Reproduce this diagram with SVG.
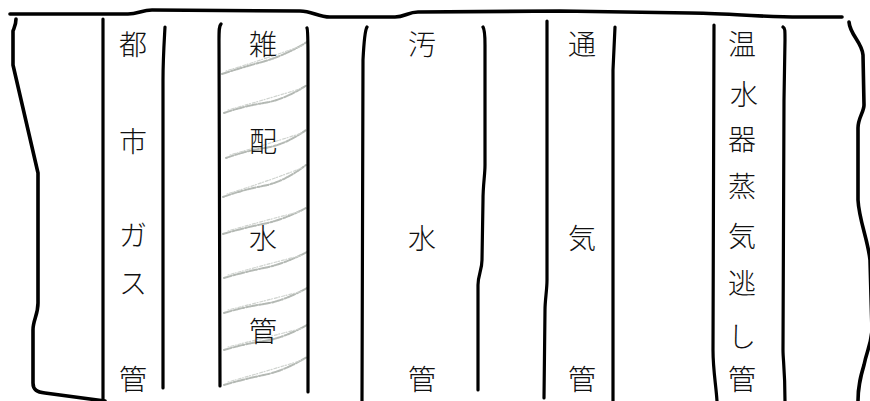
<svg xmlns="http://www.w3.org/2000/svg" width="870" height="401" viewBox="0 0 870 401">
<style>
.ink{fill:none;stroke:#000;stroke-width:3.6;stroke-linecap:round;stroke-linejoin:round}
.pen{fill:none;stroke:#000;stroke-width:3.2;stroke-linecap:round;stroke-linejoin:round}
.lbl{font-family:"Noto Sans CJK JP","Noto Sans CJK SC",sans-serif;font-size:28px;font-weight:300;fill:#111;text-anchor:middle;dominant-baseline:central}
.scr{fill:none;stroke:#b4b9b4;stroke-width:2;stroke-linecap:round;stroke-dasharray:1.5 1.2 3 1 1 2 2 1.5}
.scr2{fill:none;stroke:#cfd3cf;stroke-width:1.2;stroke-linecap:round;stroke-dasharray:1 2 3 1.5}
</style>
<rect width="870" height="401" fill="#fff"/>
<g id="outline">
<path class="ink" d="M10,14 L128,14 C138,14 142,10 152,10 L300,11 C312,11 318,17 330,17 L395,17 C405,17 408,12 418,12 L560,11 L690,13 C720,13 760,17 800,17 L842,17"/>
<path class="ink" d="M16,19 C16,25 14,28 13,31 L13,65 L38,173 L38,303 C38,315 33,320 33,330 L33,383 C33,390 37,392 45,393 L105,401"/>
<path class="ink" d="M849,22 C850,35 862,42 863,55 L864,105 C864,112 858,118 858,128 L858,200 C859,220 868,240 870,260 L872,330 C871,345 867,350 864,365 C861,375 858,385 858,401"/>
</g>
<g id="texture">
<path class="scr" d="M222,74 Q240,68 262,62 T307,42"/>
<path class="scr2" d="M226,71 Q262,60 304,45"/>
<path class="scr" d="M224,113 Q244,106 264,103 T307,85"/>
<path class="scr2" d="M228,110 Q264,100 303,88"/>
<path class="scr" d="M226,158 Q245,151 265,148 T306,130"/>
<path class="scr2" d="M230,155 Q265,145 302,133"/>
<path class="scr" d="M223,197 Q242,190 263,186 T306,165"/>
<path class="scr2" d="M227,194 Q263,183 302,168"/>
<path class="scr" d="M223,234 Q243,228 263,224 T306,208"/>
<path class="scr2" d="M228,231 Q263,221 302,211"/>
<path class="scr" d="M224,278 Q244,272 264,268 T307,252"/>
<path class="scr2" d="M228,275 Q264,265 303,255"/>
<path class="scr" d="M224,313 Q244,307 264,304 T307,288"/>
<path class="scr2" d="M228,310 Q264,301 303,291"/>
<path class="scr" d="M224,350 Q244,344 264,341 T307,325"/>
<path class="scr2" d="M228,347 Q264,338 303,328"/>
<path class="scr" d="M224,385 Q244,379 264,375 T307,357"/>
<path class="scr2" d="M228,382 Q264,372 303,360"/>
</g>
<g id="walls">
<path class="pen" d="M103,19 L103,401"/>
<path class="pen" d="M165,27 C164,45 163,60 163,80 L163,388"/>
<path class="pen" d="M221,24 C219,26 219,30 219,40 L220,386"/>
<path class="pen" d="M307,28 C308,30 308,40 308,60 L308,392"/>
<path class="pen" d="M367,27 C365,30 364,40 363,60 L362,401"/>
<path class="pen" d="M483,27 C485,30 485,35 485,45 L485,165 C485,175 483,185 483,200 L482,260 C482,270 478,275 478,285 L478,390"/>
<path class="pen" d="M547,21 L547,280 C547,290 545,300 545,310 L544,398"/>
<path class="pen" d="M615,27 L613,70 L613,401"/>
<path class="pen" d="M714,25 L713,350 C713,370 716,385 717,401"/>
<path class="pen" d="M783,27 C785,28 785,30 785,40 L784,100 L783,350 C783,360 785,370 785,401"/>
</g>
<g id="gas">
<text class="lbl" x="133" y="43">都</text>
<text class="lbl" x="133" y="140">市</text>
<text class="lbl" x="133" y="234">ガ</text>
<text class="lbl" x="133" y="282">ス</text>
<text class="lbl" x="133" y="378">管</text>
</g>
<g id="water-supply">
<text class="lbl" x="263" y="43">雑</text>
<text class="lbl" x="263" y="140">配</text>
<text class="lbl" x="263" y="237">水</text>
<text class="lbl" x="263" y="330">管</text>
</g>
<g id="sewage">
<text class="lbl" x="422" y="43">汚</text>
<text class="lbl" x="422" y="237">水</text>
<text class="lbl" x="422" y="378">管</text>
</g>
<g id="vent">
<text class="lbl" x="582" y="43">通</text>
<text class="lbl" x="582" y="237">気</text>
<text class="lbl" x="582" y="378">管</text>
</g>
<g id="relief">
<text class="lbl" x="742" y="43">温</text>
<text class="lbl" x="744" y="93">水</text>
<text class="lbl" x="742" y="138">器</text>
<text class="lbl" x="742" y="185">蒸</text>
<text class="lbl" x="742" y="235">気</text>
<text class="lbl" x="742" y="282">逃</text>
<text class="lbl" x="742" y="335">し</text>
<text class="lbl" x="742" y="378">管</text>
</g>
</svg>
